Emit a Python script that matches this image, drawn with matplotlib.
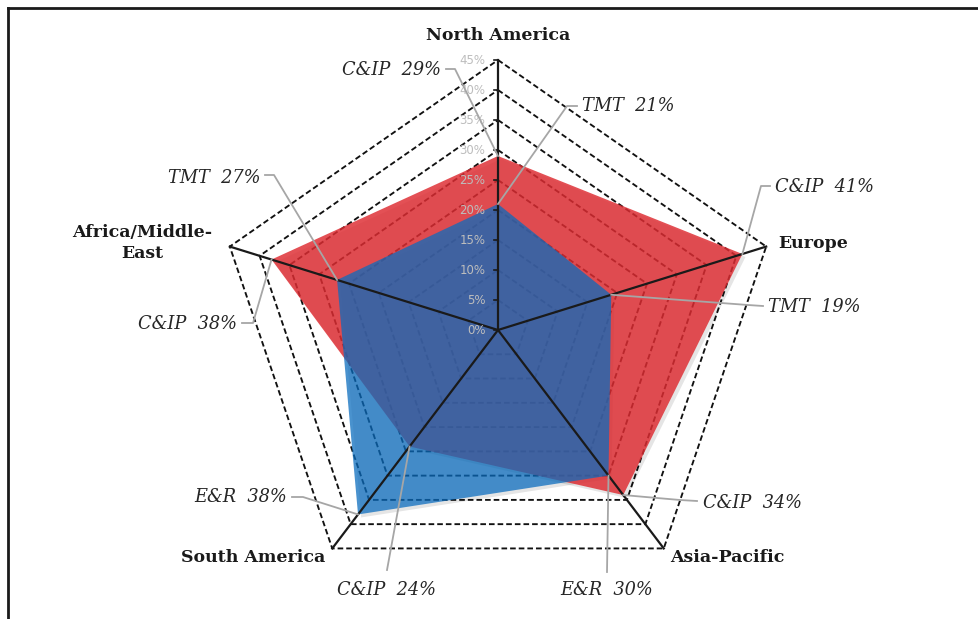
import numpy as np
import matplotlib.pyplot as plt
from matplotlib.lines import Line2D

# data
regions = ['North America', 'Europe', 'Asia-Pacific', 'South America', 'Africa/Middle-\nEast']
cip_share = [29, 41, 34, 24, 38]
lead_share = [21, 19, 30, 38, 27]
lead_sector = ['TMT', 'TMT', 'E&R', 'E&R', 'TMT']
levels = [0, 5, 10, 15, 20, 25, 30, 35, 40, 45]

W, H = 979, 619
cx, cy = 498, 330            # centre of the web, pixels
sx, sy = 282 / 45, 270 / 45  # pixels per percent

fig = plt.figure(figsize=(W / 100, H / 100), dpi=100)
ax = fig.add_axes([0, 0, 1, 1])
ax.set_xlim(-cx / sx, (W - cx) / sx)
ax.set_ylim(-(H - cy) / sy, cy / sy)
ax.axis('off')

ang = np.deg2rad(90 - 72 * np.arange(5))

def web(vals):
    vals = np.asarray(vals, float)
    return vals * np.cos(ang), vals * np.sin(ang)

def pix(px, py):
    # pixel position (from top-left) -> data coords
    return (px - cx) / sx, (cy - py) / sy

rmax = levels[-1]

# grid
for lv in levels[1:]:
    x, y = web([lv] * 5)
    ax.plot(np.append(x, x[0]), np.append(y, y[0]), color='#111111', lw=1.35,
            ls=(0, (3, 1.6)), zorder=1)

# shadows
for vals in (cip_share, lead_share):
    x, y = web(vals)
    ax.fill(x + 0.5, y - 0.5, color='#000000', alpha=0.10, lw=0, zorder=1.5)

# series
x, y = web(cip_share)
ax.fill(x, y, color='#DE2C32', alpha=0.83, lw=0, zorder=2)
x, y = web(lead_share)
ax.fill(x, y, color='#0A6CBE', alpha=0.74, lw=0, zorder=3)

# spokes
for a in ang:
    ax.plot([0, rmax * np.cos(a)], [0, rmax * np.sin(a)], color='#1a1a1a',
            lw=1.6, zorder=4)

# value ticks on the top spoke
for lv in levels:
    ax.plot([-0.7, 0], [lv, lv], color='#1a1a1a', lw=1.2, zorder=4)
    ax.text(-2.0, lv, f'{lv}%', ha='right', va='center', color='#bdbdbd',
            fontsize=8.5, zorder=5)

# region names
bold = dict(fontsize=12.5, fontweight='bold', family='DejaVu Serif', color='#1a1a1a')
name_pos = [(498, 35, 'center'), (778, 243, 'left'), (670, 557, 'left'),
            (325, 557, 'right'), (142, 243, 'center')]
for name, (px, py, ha) in zip(regions, name_pos):
    ax.text(*pix(px, py), name, ha=ha, va='center', linespacing=1.25, **bold)

# leader labels: (series, axis, elbow points in px, text x, text y, ha)
leaders = [
    ('cip', 0, [(455, 69), (446, 69)], 441, 70, 'right'),
    ('lead', 0, [(567, 106), (577, 106)], 582, 106, 'left'),
    ('cip', 1, [(761, 186), (770, 186)], 775, 187, 'left'),
    ('lead', 1, [(748, 305), (763, 306)], 768, 307, 'left'),
    ('cip', 2, [(680, 500), (697, 501)], 703, 503, 'left'),
    ('lead', 2, [(607, 572)], 607, 590, 'center'),
    ('cip', 3, [(387, 570)], 387, 590, 'center'),
    ('lead', 3, [(303, 497), (292, 497)], 287, 497, 'right'),
    ('cip', 4, [(253, 323), (242, 323)], 237, 324, 'right'),
    ('lead', 4, [(274, 175), (265, 175)], 260, 178, 'right'),
]
ital = dict(fontsize=12.8, style='italic', family='DejaVu Serif', color='#262626')
for ser, i, elbow, tx, ty, ha in leaders:
    if ser == 'cip':
        val, lab = cip_share[i], 'C&IP'
    else:
        val, lab = lead_share[i], lead_sector[i]
    px0, py0 = web([val] * 5)
    xs = [px0[i]] + [pix(*p)[0] for p in elbow]
    ys = [py0[i]] + [pix(*p)[1] for p in elbow]
    ax.plot(xs, ys, color='#a6a6a6', lw=1.3, zorder=6)
    ax.text(*pix(tx, ty), f'{lab}  {val}%', ha=ha, va='center', zorder=6, **ital)

# frame (only top and left edges are visible)
fig.add_artist(Line2D([8 / W, 1], [1 - 8 / H, 1 - 8 / H], transform=fig.transFigure,
                      color='#1a1a1a', lw=2))
fig.add_artist(Line2D([8 / W, 8 / W], [0, 1 - 8 / H], transform=fig.transFigure,
                      color='#1a1a1a', lw=2))

fig.savefig('out.png', dpi=100)
